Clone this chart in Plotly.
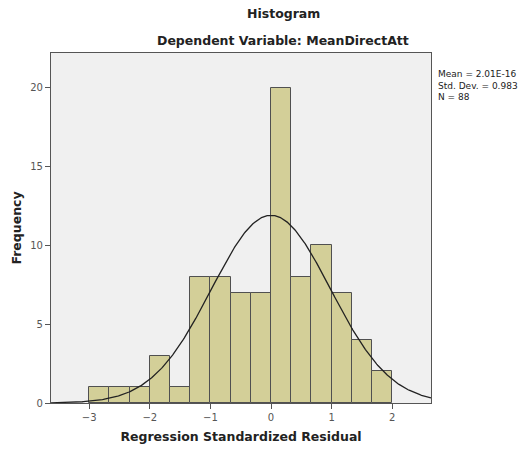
import numpy as np
import plotly.graph_objects as go

# Data
bin_start = -3.0
bin_width = 1.0 / 3.0
counts = [1, 1, 1, 3, 1, 8, 8, 7, 7, 20, 8, 10, 7, 4, 2]
mean_val = 2.01e-16
std_val = 0.983
n_val = 88
x_ticks = [-3, -2, -1, 0, 1, 2]
y_ticks = [0, 5, 10, 15, 20]

centers = [bin_start + bin_width * (i + 0.5) for i in range(len(counts))]

xs = np.linspace(-3.63, 2.64, 400)
ys = n_val * bin_width / (std_val * np.sqrt(2 * np.pi)) * np.exp(-0.5 * ((xs - mean_val) / std_val) ** 2)

font_family = "DejaVu Sans"
title_x = (283 - 51) / 380

fig = go.Figure()
fig.add_trace(go.Bar(
    x=centers, y=counts, width=bin_width,
    marker=dict(color="#D3CF98", line=dict(color="#505050", width=1)),
    hoverinfo="x+y", showlegend=False,
))
fig.add_trace(go.Scatter(
    x=xs, y=ys, mode="lines",
    line=dict(color="#222222", width=1.3),
    showlegend=False, hoverinfo="skip",
))

fig.update_layout(
    width=528, height=454,
    margin=dict(l=51, r=97, t=53, b=47),
    paper_bgcolor="white",
    plot_bgcolor="#F0F0F0",
    bargap=0,
    font=dict(family=font_family, color="#222222"),
    xaxis=dict(
        range=[-3.63, 2.64], tickvals=x_ticks,
        ticks="outside", ticklen=5, tickcolor="#555555",
        tickfont=dict(size=10, color="#555555"),
        showgrid=False, zeroline=False,
        showline=True, linecolor="#555555", linewidth=1.2, mirror=True,
        title=dict(text="<b>Regression Standardized Residual</b>", font=dict(size=12.5, color="#222222"), standoff=10),
    ),
    yaxis=dict(
        range=[0, 22.2], tickvals=y_ticks,
        ticks="outside", ticklen=5, tickcolor="#555555",
        tickfont=dict(size=10, color="#555555"),
        showgrid=False, zeroline=False,
        showline=True, linecolor="#555555", linewidth=1.2, mirror=True,
        title=dict(text="<b>Frequency</b>", font=dict(size=12.5, color="#222222"), standoff=5),
    ),
    annotations=[
        dict(text="<b>Histogram</b>", xref="paper", yref="paper", x=title_x, y=1,
             xanchor="center", yanchor="bottom", yshift=30, showarrow=False,
             font=dict(size=12.5, color="#222222")),
        dict(text="<b>Dependent Variable: MeanDirectAtt</b>", xref="paper", yref="paper",
             x=title_x, y=1,
             xanchor="center", yanchor="bottom", yshift=3, showarrow=False,
             font=dict(size=12.5, color="#222222")),
        dict(text=f"Mean = 2.01E-16<br>Std. Dev. = {std_val}<br>N = {n_val}", xref="paper", yref="paper",
             x=1, y=1, xanchor="left", yanchor="top", xshift=5, yshift=-14, showarrow=False, align="left",
             font=dict(size=9, color="#222222")),
    ],
)

fig.write_html("out.html")
